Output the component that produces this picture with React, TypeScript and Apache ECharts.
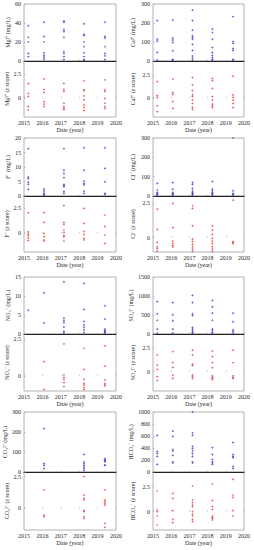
import React, { useEffect, useRef } from 'react';
import * as echarts from 'echarts';

// sampling dates (decimal year) of the five campaigns
const sampleDates = [2015.23, 2016.09, 2017.17, 2018.26, 2019.4];
const zTicks = [0, 2.5];

// concentrations (mg/L) per campaign
const mgConc = [[37, 25, 20, 8, 4.5], [41, 26, 20, 8.5, 6, 4, 2], [42, 41, 33, 31, 25, 10, 8, 4.5, 1.5], [39, 28, 27, 20, 15, 8.5, 4.5, 1.5, 0.5], [41, 26, 24, 15, 8, 5.5, 1.5]];
const caConc = [[212, 115, 105, 45, 5], [215, 120, 110, 97, 53, 9, 4], [268, 212, 162, 132, 124, 115, 88, 56, 26, 14, 4], [168, 150, 115, 70, 44, 30, 18, 9, 4], [233, 102, 92, 65, 56, 9, 4]];
const fConc = [[16.3, 6.5, 6, 4.7, 4, 2.3], [2.4, 1.7, 1, 0.6, 0.3], [16.3, 8.9, 7.8, 6.3, 4, 3.5, 3.2, 1.5, 0.9], [16.6, 8.9, 5.1, 4.3, 3.8, 1.7, 0.9], [16.6, 9.5, 4.9, 0.9, 0.6]];
const clConc = [[65, 31, 19, 14, 9, 5], [69, 36, 19, 12, 9, 5], [69, 60, 39, 26, 19, 14, 9, 5], [74, 36, 26, 19, 14, 9, 5], [300, 26, 14, 9, 5]];
const no3Conc = [[6.3], [10.8, 2.9], [13.7, 4.2, 3.6, 3.0, 1.8, 0.7, 0.3], [13.3, 6.5, 3.3, 2.4, 1.8, 1.1, 0.4], [7.4, 3.9, 1.3, 0.9, 0.7, 0.4, 0.3]];
const so4Conc = [[851, 531, 362, 126, 25], [826, 505, 345, 126, 25], [1019, 826, 531, 489, 168, 126, 84, 42, 25], [885, 716, 548, 362, 126, 93, 42, 25], [548, 320, 110, 67, 25]];
const co3Conc = [[], [217, 42, 33, 17], [], [88, 50, 42, 33, 25, 17, 8], [67, 60, 58, 55, 50, 35, 33]];
const hco3Conc = [[611, 344, 306, 261, 128], [683, 594, 372, 350, 278, 167, 150], [1000, 650, 611, 428, 389, 350, 306, 261, 167, 150], [406, 289, 206, 167, 150, 128], [489, 289, 261, 239, 94, 56]];

// z scores per campaign
const mgZ = [[1.5, 0.5, 0.2, -0.85, -1.2], [2.0, 0.9, 0.6, -0.35, -0.6, -0.85], [1.54, 0.92, 0.72, -0.51, -0.86, -1.03, -1.13], [1.8, 0.86, 0.79, 0.24, -0.17, -0.68, -0.92, -1.27], [1.88, 0.86, 0.72, 0, -0.51, -0.86, -1.03]];
const caZ = [[1.79, 0.29, 0.11, -0.82, -1.43], [2.07, 0.61, 0.43, -0.36, -1.07], [2.21, 1.43, 0.82, 0.36, 0.18, -0.18, -0.54, -0.96, -1.18], [2.14, 1.89, 1.07, 0.18, -0.18, -0.61, -0.82, -0.96], [2.39, 0.36, 0.11, -0.18, -0.54, -0.96]];
const fZ = [[2.05, 0.15, -0.05, -0.2, -0.45, -0.7], [2.07, 1.1, 0, -0.33, -0.67, -0.77], [2.77, 1.1, 0.9, 0.33, 0.1, -0.23, -0.33, -0.77], [2.5, 1.0, 0.17, -0.1, -0.5, -0.67], [1.83, 0.67, -0.17, -1.0]];
const clZ = [[2.09, 0.61, -0.34, -0.66, -0.8, -0.97], [2.5, 0.73, -0.24, -0.41, -0.58, -0.66], [2.33, 2.14, 0.87, -0.1, -0.29, -0.49, -0.66, -0.83, -0.97], [0.87, 0.56, 0.24, -0.05, -0.24, -0.41, -0.66, -0.83, -1.0], [2.74, -0.29, -0.36, -0.44]];
const no3Z = [[], [0.98, -0.91], [2.18, 0.07, -0.09, -0.23, -0.45, -0.73], [1.89, 0.45, -0.23, -0.5, -0.61, -0.77, -0.91], [2.05, 0.68, -0.27, -0.5, -0.61, -0.68]];
const so4Z = [[1.79, 0.71, 0.25, -0.54, -0.96], [2.14, 0.96, 0.46, -0.36, -0.71], [2.32, 1.79, 0.82, 0.64, -0.36, -0.54, -0.71], [2.21, 1.61, 0.96, 0.43, -0.46, -0.61, -0.71, -0.82], [2.32, 0.96, -0.46, -0.61, -0.71]];
const co3Z = [[], [1.45, -0.53, -0.66], [], [2.5, 1.05, 0.79, 0.66, -0.18, -0.26, -0.66, -0.79], [1.45, 0.66, 0.53, 0.39, 0.26, -1.18, -1.5]];
const hco3Z = [[2.07, 0.17, 0, -0.43, -1.33], [1.83, 1.33, 0.1, -0.77, -1.1], [2.57, 1.17, 0.9, 0.67, 0.5, 0, -0.23, -0.43, -0.77, -1.0], [2.77, 1.1, 0.5, 0.23, -0.43, -0.57, -0.67, -0.83], [3.23, 1.67, 1.43, 0.1, -0.43]];

const ionLabels = ['Mg²⁺', 'Ca²⁺', 'F⁻', 'Cl⁻', 'NO₃⁻', 'SO₄²⁻', 'CO₃²⁻', 'HCO₃⁻'];
const concMax = [60, 300, 20, 300, 15, 1500, 300, 1000];
const concStep = [20, 100, 5, 100, 5, 500, 100, 200];
const zMin = [-1.92, -2.0, -1.87, -1.04, -1.02, -2.07, -1.71, -1.83];
const zMax = [3.83, 4.0, 3.73, 3.04, 2.86, 4.04, 2.87, 3.97];
const concData = [mgConc, caConc, fConc, clConc, no3Conc, so4Conc, co3Conc, hco3Conc];
const zData = [mgZ, caZ, fZ, clZ, no3Z, so4Z, co3Z, hco3Z];

const FONT = 'Liberation Serif';
const TXT = '#262626';
const BLUE = '#3232c8';
const RED = '#e03a3a';
const PLUS = 'path://M1,0H2V1H3V2H2V3H1V2H0V1H1Z';

const colLeft = [24, 153];
const colWidth = [92, 91];
const nameGaps = [9, 17];
const rowY = [[4, 61, 117], [138, 196, 252], [277, 334, 391], [412, 472, 530]];

function toPoints(groups: number[][]) {
  const pts: number[][] = [];
  groups.forEach((g, i) => g.forEach((v) => pts.push([sampleDates[i], v])));
  return pts;
}

export default function App() {
  const ref = useRef<HTMLDivElement>(null);
  useEffect(() => {
    if (!ref.current) return;
    const chart = echarts.init(ref.current, null, { renderer: 'svg' });
    const grid: any[] = [];
    const xAxis: any[] = [];
    const yAxis: any[] = [];
    const series: any[] = [];
    const labelStyle = { fontFamily: FONT, fontSize: 6, color: TXT };
    const plain = (v: number) => String(v);
    ionLabels.forEach((ion, k) => {
      const col = k % 2;
      const row = Math.floor(k / 2);
      const [t, m, b] = rowY[row];
      const gi = grid.length;
      const base = { left: colLeft[col], width: colWidth[col], show: true, borderColor: '#a0a0a0', borderWidth: 0.8 };
      grid.push({ ...base, top: t, height: m - t });
      grid.push({ ...base, top: m, height: b - m });
      const xCommon = {
        type: 'value', min: 2015, max: 2020, interval: 1,
        splitLine: { show: false },
        axisTick: { show: true, inside: true, length: 1.5, lineStyle: { color: '#999', width: 0.5 } },
      };
      xAxis.push({ ...xCommon, gridIndex: gi, axisLabel: { show: false }, axisLine: { show: true, lineStyle: { color: '#222', width: 1 } } });
      xAxis.push({
        ...xCommon, gridIndex: gi + 1,
        axisLine: { show: false },
        axisLabel: { ...labelStyle, margin: 3, formatter: plain },
        name: 'Date (year)', nameLocation: 'middle', nameGap: 10,
        nameTextStyle: { ...labelStyle },
      });
      const yCommon = {
        splitLine: { show: false },
        axisLine: { show: false },
        axisTick: { show: true, inside: true, length: 1.5, lineStyle: { color: '#999', width: 0.5 } },
        nameLocation: 'middle', nameRotate: 90, nameGap: nameGaps[col],
      };
      yAxis.push({
        ...yCommon, gridIndex: gi, type: 'value', min: 0, max: concMax[k], interval: concStep[k],
        axisLabel: { ...labelStyle, margin: 3, formatter: plain },
        name: ion + ' (mg/L)', nameTextStyle: { ...labelStyle },
      });
      yAxis.push({
        ...yCommon, gridIndex: gi + 1, type: 'value', min: zMin[k], max: zMax[k],
        axisLabel: { ...labelStyle, margin: 3, customValues: zTicks, formatter: plain },
        axisTick: { ...yCommon.axisTick, customValues: zTicks },
        name: ion + ' ({i|z} score)',
        nameTextStyle: { ...labelStyle, rich: { i: { ...labelStyle, fontStyle: 'italic' } } },
      });
      series.push({
        type: 'scatter', xAxisIndex: gi, yAxisIndex: gi, data: toPoints(concData[k]),
        symbol: PLUS, symbolSize: 2.2, itemStyle: { color: BLUE }, silent: true,
      });
      series.push({
        type: 'scatter', xAxisIndex: gi + 1, yAxisIndex: gi + 1, data: toPoints(zData[k]),
        symbol: PLUS, symbolSize: 2.2, itemStyle: { color: RED }, silent: true,
      });
    });
    chart.setOption({ animation: false, backgroundColor: '#ffffff', grid, xAxis, yAxis, series });
    return () => chart.dispose();
  }, []);
  return <div ref={ref} style={{ position: 'absolute', left: 0, top: 0, width: 254, height: 550 }} />;
}
